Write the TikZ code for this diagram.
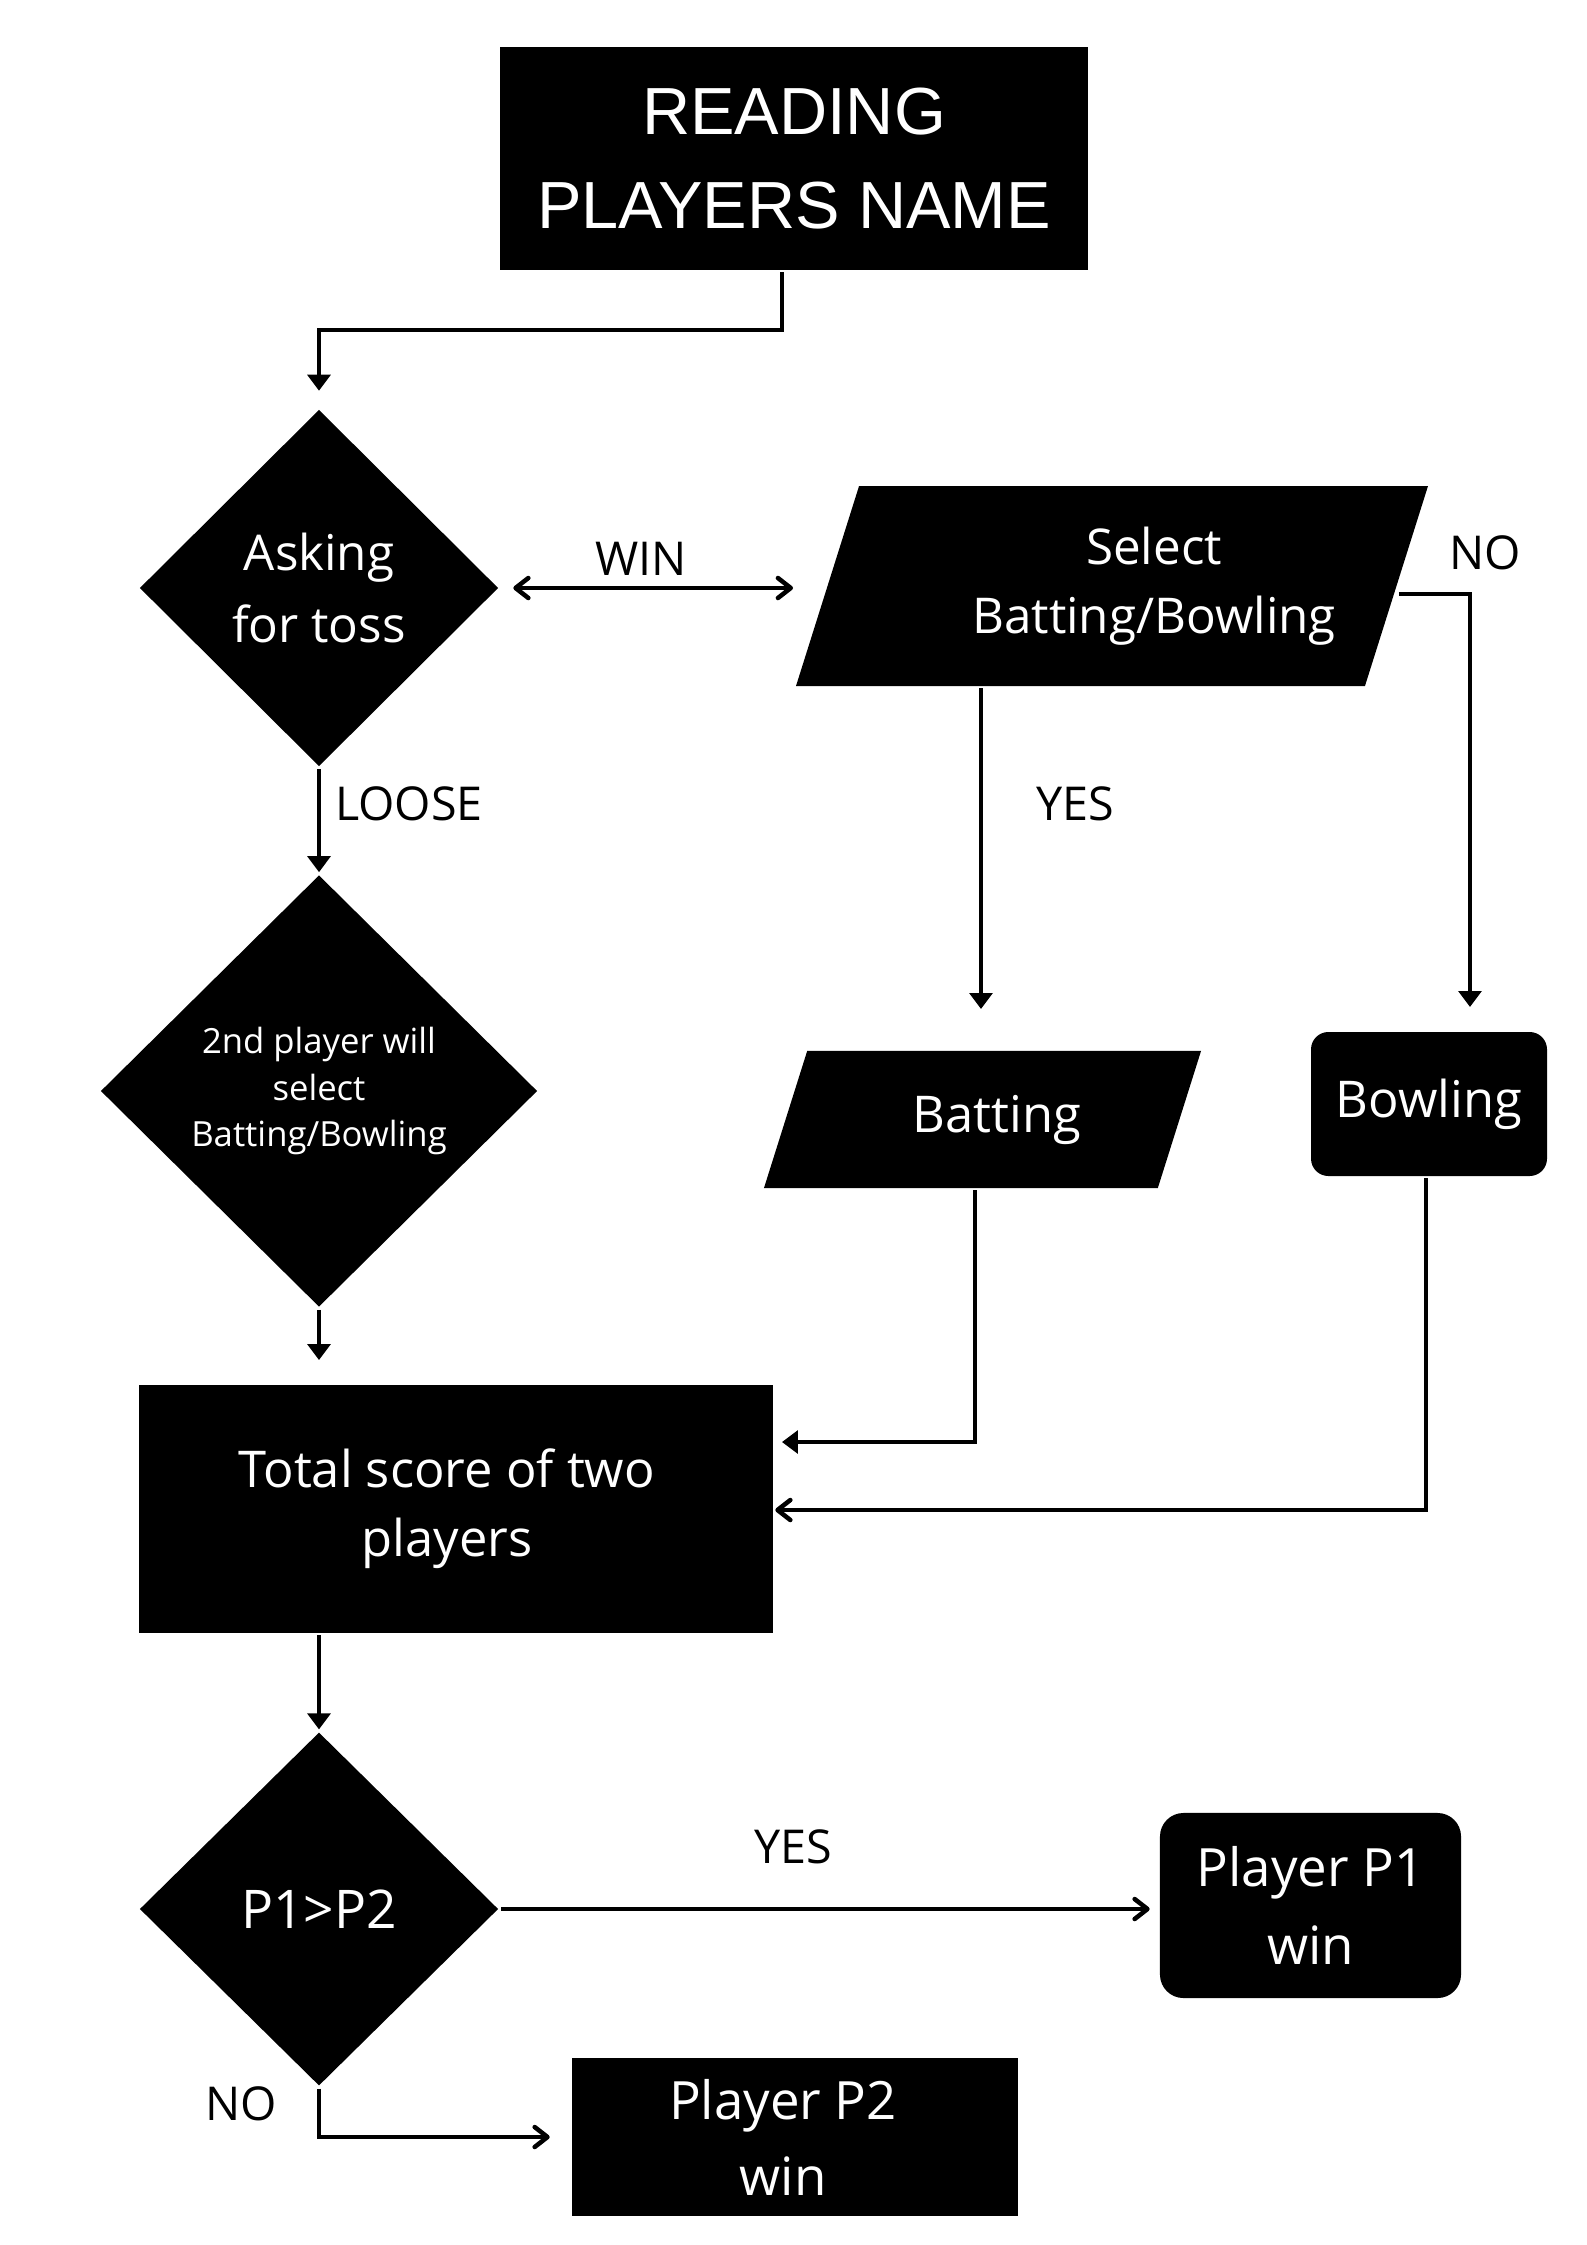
\documentclass[tikz,border=0pt]{standalone}
\usepackage{fontspec}
\setmainfont{Open Sans}
\newfontfamily\headfont{Liberation Sans}
\usetikzlibrary{arrows.meta,shapes.geometric}

\begin{document}
\begin{tikzpicture}[x=0.375pt,y=-0.375pt,line width=1.7pt,
    tri/.style={-{Triangle[width=8.5pt,length=6pt]}},
    barb/.style={-{Straight Barb[width=7.5pt,length=4.8pt,round]}},
    dbl/.style={{Straight Barb[width=7.5pt,length=4.8pt,round]}-{Straight Barb[width=7.5pt,length=4.8pt,round]}},
    block/.style={fill=black,text=white,inner sep=0pt,align=center},
    box/.style={block,rectangle},
    decision/.style={block,diamond},
    io/.style={block,trapezium,trapezium left angle=72.5,trapezium right angle=107.5,trapezium stretches body,text depth=0pt},
    term/.style={block,rectangle,rounded corners=#1},term/.default=6.5pt,
    lbl/.style={font=\fontsize{17.5}{21}\selectfont}]

  \useasboundingbox (0,0) rectangle (1587,2245);
  \fill[white] (0,0) rectangle (1587,2245);

  \node[box,minimum width=220.5pt,minimum height=83.6pt,font=\headfont\fontsize{25}{35}\selectfont] (read) at (794,158.5) {READING\\PLAYERS NAME};
  \node[decision,minimum width=135pt,minimum height=134.25pt,font=\fontsize{18.5}{27}\selectfont] (ask) at (319,588) {Asking\\for toss};
  \node[io,text height=75pt,minimum width=237pt,
        label={[text=white,align=center,xshift=15.75pt,font=\fontsize{18.5}{26}\selectfont]center:{Select\\Batting/Bowling}}] (sel) at (1112,586) {};
  \node[decision,minimum width=164.25pt,minimum height=162.4pt,font=\fontsize{13}{17.6}\selectfont] (who) at (319,1091) {2nd player will\\select\\Batting/Bowling};
  \node[io,text height=51.4pt,minimum width=163.9pt,
        label={[text=white,xshift=5.4pt,font=\fontsize{19}{23}\selectfont]center:Batting}] (bat) at (982.5,1119.5) {};
  \node[term,minimum width=88.5pt,minimum height=54pt,font=\fontsize{19}{23}\selectfont] (bowl) at (1429,1104) {Bowling};
  \node[box,minimum width=237.75pt,minimum height=93pt,
        label={[text=white,align=center,xshift=-3.4pt,font=\fontsize{19}{26}\selectfont]center:{Total score of two\\players}}] (total) at (456,1509) {};
  \node[decision,minimum width=135pt,minimum height=133pt,font=\fontsize{20}{28}\selectfont] (cmp) at (319,1909) {P1>P2};
  \node[term=8.8pt,minimum width=112.9pt,minimum height=69.4pt,font=\fontsize{19.8}{29.5}\selectfont] (p1) at (1310.5,1905.5) {Player P1\\win};
  \node[box,minimum width=167.25pt,minimum height=59.25pt,
        label={[text=white,align=center,xshift=-4.5pt,font=\fontsize{19.8}{28.5}\selectfont]center:{Player P2\\win}}] (p2) at (795,2137) {};

  \node[lbl] (win) at (641,559) {WIN};
  \node[lbl] (no1) at (1485,553) {NO};
  \node[lbl] (yes1) at (1075,804) {YES};
  \node[lbl] (loose) at (409,804) {LOOSE};
  \node[lbl] (yes2) at (793,1847) {YES};
  \node[lbl] (no2) at (241,2104) {NO};

  \coordinate (c1) at (782,330);
  \coordinate (w1) at (793,588);
  \coordinate (n2) at (1470,1007);
  \coordinate (y1) at (981,1009);
  \coordinate (b1) at (975,1442);
  \coordinate (b2) at (1426,1510);

  \draw[tri,shorten >=6pt] (read.south -| c1) -- (c1) -| (ask.north);
  \draw[dbl,shorten <=4.5pt] (ask.east) -- (w1);
  \draw[tri] ([yshift=-3pt]sel.east) -| (n2);
  \draw[tri] (sel.south -| y1) -- (y1);
  \draw[tri] (ask.south) -- (who.north);
  \draw[tri,shorten >=8.5pt] (who.south) -- (who.south |- total.north);
  \draw[tri,shorten >=2.5pt] (bat.south -| b1) |- (total.east |- b1);
  \draw[barb] (bowl.south -| b2) |- (total.east |- b2);
  \draw[tri] (total.south -| cmp.north) -- (cmp.north);
  \draw[barb,shorten >=3pt] (cmp.east) -- (cmp.east -| p1.west);
  \draw[barb,shorten >=7.5pt] (cmp.south) |- (p2.west);
\end{tikzpicture}
\end{document}
